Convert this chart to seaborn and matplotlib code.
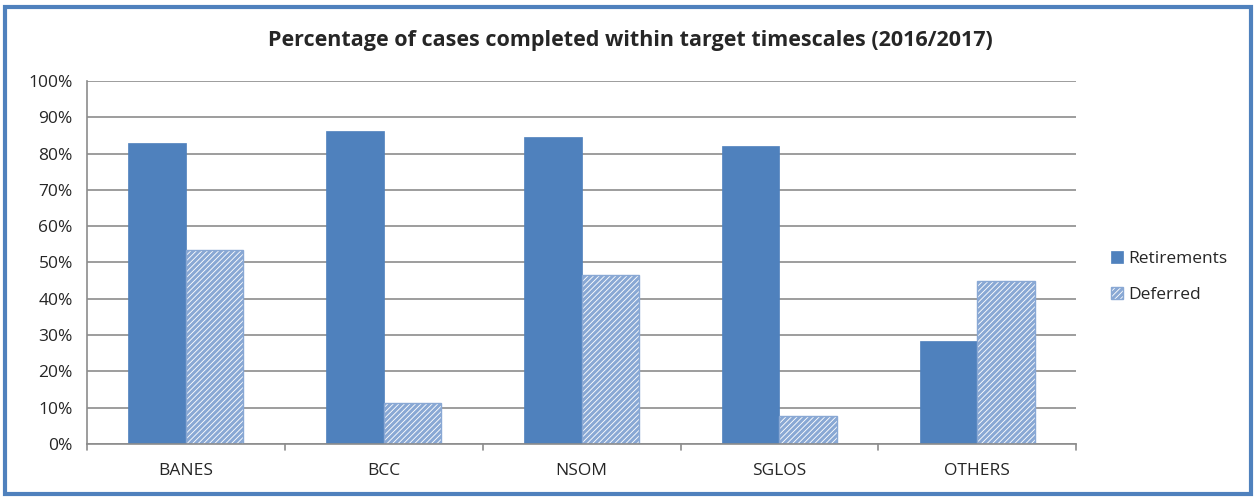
import matplotlib
matplotlib.use("Agg")
import matplotlib.pyplot as plt
import matplotlib.patches as mpatches
import pandas as pd
import seaborn as sns

# data
regions = ["BANES", "BCC", "NSOM", "SGLOS", "OTHERS"]
retirements = [83.0, 86.2, 84.6, 82.1, 28.4]
deferred = [53.5, 11.3, 46.4, 7.7, 44.9]
series = ["Retirements", "Deferred"]

df = pd.DataFrame({
    "region": regions * 2,
    "series": [series[0]] * len(regions) + [series[1]] * len(regions),
    "pct": retirements + deferred,
})

sns.set_style("white")
plt.rcParams["font.family"] = ["Open Sans", "DejaVu Sans"]
plt.rcParams["hatch.linewidth"] = 2.2

blue = "#4F81BD"
light = "#89A8D4"

fig = plt.figure(figsize=(12.56, 4.97), dpi=100)
ax = fig.add_axes([0.069, 0.107, 0.788, 0.730])

sns.barplot(data=df, x="region", y="pct", hue="series", palette=[blue, "white"],
            width=0.58, saturation=1, legend=False, ax=ax)

for p in ax.containers[0].patches:
    p.set_edgecolor(blue)
    p.set_linewidth(0.5)
for p in ax.containers[1].patches:
    p.set_facecolor("white")
    p.set_edgecolor(light)
    p.set_hatch("//////")
    p.set_linewidth(1)

ax.set_ylim(0, 100)
ax.set_xlim(-0.5, len(regions) - 0.5)
ax.set_yticks(range(0, 101, 10))
ax.set_yticklabels([f"{v}%" for v in range(0, 101, 10)], fontsize=12.5)
ax.set_xticks(range(len(regions)))
ax.set_xticklabels(regions, fontsize=12.5)
ax.set_xlabel("")
ax.set_ylabel("")
ax.yaxis.grid(True, color="#8C8C8C", linewidth=1.2)
ax.set_axisbelow(True)

for s in ["top", "right"]:
    ax.spines[s].set_visible(False)
for s in ["left", "bottom"]:
    ax.spines[s].set_color("#8C8C8C")
    ax.spines[s].set_linewidth(1.2)

ax.tick_params(axis="y", length=6, color="#8C8C8C", width=1.2, pad=4)
ax.tick_params(axis="x", length=0, pad=14)
# category boundary ticks like the original
for b in [i - 0.5 for i in range(len(regions) + 1)]:
    ax.plot([b, b], [0, -1.8], color="#8C8C8C", linewidth=1.2, clip_on=False)

ax.legend(ax.containers, series, loc="center left", bbox_to_anchor=(1.035, 0.46),
          frameon=False, fontsize=12.5, handlelength=0.7, handleheight=0.7,
          handletextpad=0.3, labelspacing=1.15, borderpad=0, borderaxespad=0)

fig.suptitle("Percentage of cases completed within target timescales (2016/2017)",
             x=0.502, y=0.94, fontsize=15.5, fontweight="bold")

fig.patches.append(mpatches.Rectangle((0.004, 0.006), 0.992, 0.98, transform=fig.transFigure,
                                      fill=False, edgecolor=blue, linewidth=3))

fig.savefig("out.png", dpi=100)
